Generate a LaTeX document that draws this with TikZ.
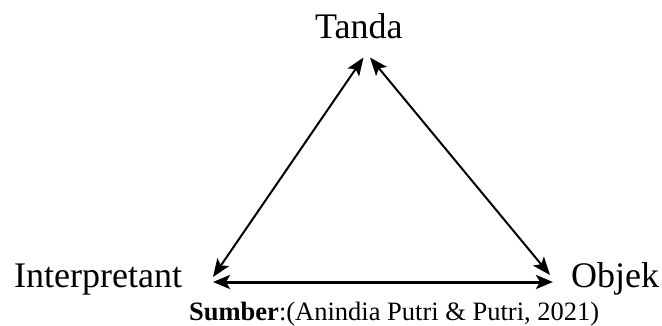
\documentclass[tikz,border=0pt]{standalone}
\usepackage{fontspec}
\setmainfont{Liberation Serif}
\usetikzlibrary{arrows.meta}
\begin{document}
\begin{tikzpicture}[x=1pt,y=1pt,
  lbl/.style={inner sep=0pt, anchor=base west, font=\fontsize{36}{36}\selectfont},
  src/.style={inner sep=0pt, anchor=base west, font=\fontsize{26.5}{26.5}\selectfont},
  diag/.style={line width=2pt, {Stealth[length=18pt,width=14pt,inset=4pt]}-{Stealth[length=18pt,width=14pt,inset=4pt]}},
  horiz/.style={line width=3pt, {Stealth[length=17pt,width=14pt,inset=4pt]}-{Stealth[length=17pt,width=14pt,inset=4pt]}}]
\useasboundingbox (0,0) rectangle (662,325);
\node[lbl] (tanda) at (315,287) {Tanda};
\node[lbl] (interp) at (14,38) {Interpretant};
\node[lbl] (objek) at (571,38) {Objek};
\node[src] (sumber) at (189,5) {\textbf{Sumber}:(Anindia Putri \& Putri, 2021)};
\coordinate (aL) at (363.5,267.5);
\coordinate (aR) at (370,267.5);
\coordinate (bL) at (213,48);
\coordinate (bR) at (550,50);
\coordinate (hL) at (213,43);
\coordinate (hR) at (553,43);
\draw[diag] (bL) -- (aL);
\draw[diag] (aR) -- (bR);
\draw[horiz] (hL) -- (hR);
\end{tikzpicture}
\end{document}
